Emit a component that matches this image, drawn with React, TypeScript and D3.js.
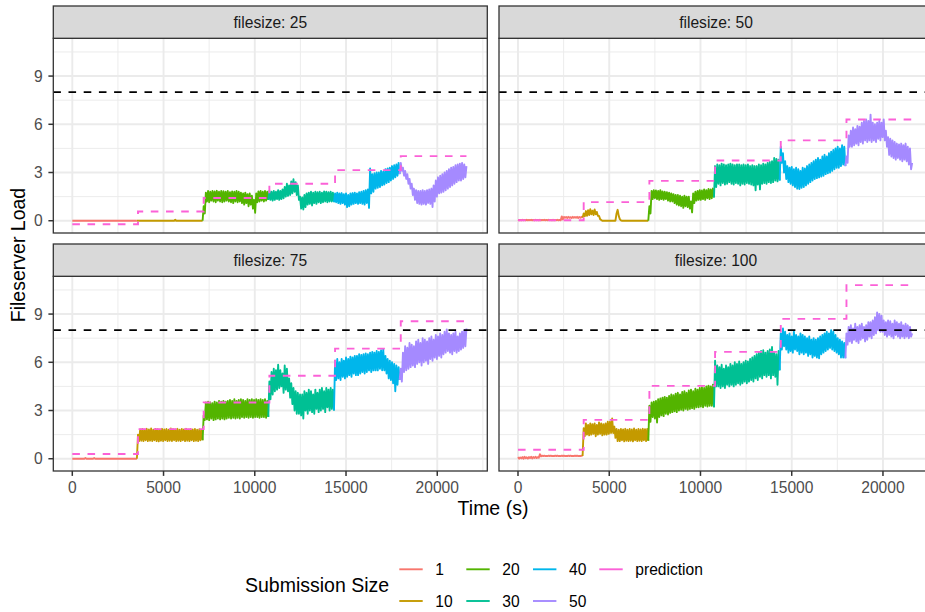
import React from "react";
import * as d3 from "d3";

// ---------- data ----------
const sizes = ["1", "10", "20", "30", "40", "50"];
const sizeColors = ["#F8766D", "#C49A00", "#53B400", "#00C094", "#00B6EB", "#A58AFF"];
const predColor = "#FB61D7";
const filesizes = [25, 50, 75, 100];
const segmentStarts = [0, 3600, 7200, 10800, 14400, 18000];
const timeEnd = 21600;
const sampleStep = 60; // seconds between samples (values alternate upper / lower edge of the noisy trace)
const threshold = 8;
const xTicks = [0, 5000, 10000, 15000, 20000];
const xMinor = [2500, 7500, 12500, 17500, 22500];
const yTicks = [0, 3, 6, 9];
const yMinor = [1.5, 4.5, 7.5, 10.5];

const pred25 = [-0.22, 0.57, 1.41, 2.3, 3.15, 4.02];
const pred50 = [0.03, 1.16, 2.48, 3.75, 5.0, 6.3];
const pred75 = [0.29, 1.84, 3.5, 5.16, 6.85, 8.55];
const pred100 = [0.56, 2.42, 4.53, 6.65, 8.7, 10.8];

const load25 = [
  // 1
  0, 0, 0, 0, 0, 0, 0, 0, 0, 0, 0, 0, 0, 0, 0, 0, 0, 0, 0, 0, 0, 0, 0, 0, 0, 0, 0, 0, 0, 0,
  0, 0, 0, 0, 0, 0, 0, 0, 0, 0, 0, 0, 0, 0, 0, 0, 0, 0, 0, 0, 0, 0, 0, 0, 0, 0, 0, 0, 0, 0,
  // 10
  0, 0, 0, 0, 0, 0, 0, 0, 0, 0, 0, 0, 0, 0, 0, 0, 0, 0, 0, 0, 0, 0, 0, 0, 0, 0, 0, 0, 0, 0,
  0, 0, 0, 0, 0.06, 0, 0, 0, 0, 0, 0, 0, 0, 0, 0, 0, 0, 0, 0, 0, 0, 0, 0, 0, 0, 0, 0, 0, 0, 0,
  // 20
  0.9, 0.45, 1.75, 1.2, 1.85, 1.15, 1.8, 1.25, 1.85, 1.2, 1.82, 1.15, 1.86, 1.25, 1.8, 1.2, 1.85, 1.15, 1.83, 1.2,
  1.8, 1.25, 1.85, 1.2, 1.78, 1.15, 1.82, 1.1, 1.8, 1.2, 1.85, 1.15, 1.8, 1.2, 1.75, 1.1, 1.7, 1.0, 1.75, 1.1,
  1.65, 0.9, 1.7, 1.0, 1.55, 0.75, 1.3, 0.5, 1.7, 1.15, 1.82, 1.2, 1.85, 1.25, 1.8, 1.2, 1.85, 1.25, 1.8, 1.3,
  // 30
  1.85, 1.3, 1.8, 1.25, 1.85, 1.3, 1.8, 1.35, 1.9, 1.3, 1.85, 1.35, 1.95, 1.4, 2.1, 1.5, 2.3, 1.55, 2.2, 1.6,
  2.45, 1.7, 2.58, 1.8, 2.4, 1.6, 2.2, 1.3, 1.5, 0.75, 1.45, 0.7, 1.6, 0.85, 1.7, 1.0, 1.75, 1.05, 1.8, 0.95,
  1.75, 1.1, 1.8, 1.05, 1.78, 1.15, 1.8, 1.1, 1.75, 1.15, 1.82, 1.2, 1.8, 1.15, 1.78, 1.2, 1.8, 1.2, 1.75, 1.15,
  // 40
  1.7, 1.15, 1.75, 1.1, 1.7, 1.05, 1.72, 1.1, 1.65, 1.0, 1.7, 0.85, 1.6, 0.9, 1.7, 1.0, 1.72, 1.05, 1.75, 1.1,
  1.7, 1.05, 1.78, 1.1, 1.8, 1.05, 1.85, 1.0, 1.9, 1.1, 1.95, 0.8, 3.25, 1.7, 2.9, 1.8, 2.95, 2.0, 3.0, 2.05,
  3.0, 2.1, 3.1, 2.2, 3.05, 2.25, 3.2, 2.35, 3.25, 2.4, 3.3, 2.5, 3.4, 2.6, 3.45, 2.7, 3.5, 2.8, 3.6, 2.9,
  // 50
  3.6, 3.1, 3.3, 2.8, 3.1, 2.6, 2.9, 2.3, 2.6, 2.0, 2.3, 1.6, 2.0, 1.3, 1.9, 1.1, 1.85, 1.05, 1.85, 1.0,
  1.9, 1.05, 1.85, 1.0, 1.9, 1.1, 1.95, 1.05, 2.0, 0.85, 2.2, 1.2, 2.5, 1.5, 2.7, 1.7, 2.8, 1.75, 2.9, 1.8,
  3.0, 1.9, 3.1, 2.0, 3.2, 2.1, 3.3, 2.2, 3.35, 2.3, 3.45, 2.4, 3.5, 2.5, 3.55, 2.5, 3.6, 2.6, 3.5, 2.7,
  3.4,
];

const load50 = [
  // 1
  0.06, 0.02, 0.05, 0.02, 0.06, 0.03, 0.05, 0.02, 0.06, 0.02, 0.05, 0.03, 0.06, 0.02, 0.05, 0.02, 0.06, 0.03, 0.05, 0.02,
  0.06, 0.02, 0.05, 0.03, 0.06, 0.02, 0.05, 0.02, 0.06, 0.03, 0.05, 0.02, 0.06, 0.02, 0.05, 0.03, 0.06, 0.02, 0.05, 0.03,
  0.27, 0.08, 0.24, 0.18, 0.23, 0.17, 0.24, 0.18, 0.22, 0.17, 0.24, 0.18, 0.23, 0.18, 0.24, 0.17, 0.23, 0.18, 0.24, 0.18,
  // 10
  0.45, 0.28, 0.6, 0.3, 0.65, 0.35, 0.72, 0.4, 0.62, 0.35, 0.7, 0.4, 0.55, 0.3, 0.3, 0.1, 0.05, 0.0, 0, 0,
  0, 0, 0, 0, 0, 0, 0, 0, 0, 0, 0.45, 0.68, 0.3, 0.1, 0.02, 0, 0, 0, 0, 0,
  0, 0, 0, 0, 0, 0, 0, 0, 0, 0, 0, 0, 0, 0, 0, 0, 0, 0, 0, 0,
  // 20
  0.9, 0.45, 1.85, 1.35, 1.9, 1.4, 1.88, 1.35, 1.85, 1.3, 1.9, 1.35, 1.82, 1.3, 1.8, 1.35, 1.78, 1.25, 1.75, 1.2,
  1.7, 1.2, 1.65, 1.1, 1.6, 1.0, 1.6, 0.95, 1.55, 0.9, 1.5, 0.8, 1.55, 0.9, 1.5, 0.85, 1.5, 0.75, 1.2, 0.52,
  1.7, 1.1, 1.8, 1.25, 1.85, 1.3, 1.9, 1.3, 1.88, 1.35, 1.95, 1.3, 1.9, 1.4, 1.97, 1.35, 1.95, 1.4, 2.0, 1.45,
  // 30
  3.4, 2.1, 3.5, 2.3, 3.45, 2.2, 3.55, 2.35, 3.5, 2.25, 3.45, 2.3, 3.5, 2.4, 3.55, 2.3, 3.5, 2.25, 3.45, 2.35,
  3.5, 2.3, 3.5, 2.2, 3.45, 2.3, 3.5, 2.25, 3.45, 2.35, 3.5, 2.3, 3.4, 2.25, 3.45, 2.2, 3.4, 1.9, 3.4, 2.25,
  3.5, 1.95, 3.45, 2.3, 3.55, 2.35, 3.5, 2.3, 3.6, 2.4, 3.65, 2.35, 3.7, 2.4, 3.9, 2.5, 3.85, 2.45, 3.8, 2.5,
  // 40
  4.6, 3.6, 4.2, 3.0, 3.7, 2.6, 3.4, 2.4, 3.3, 2.3, 3.35, 2.2, 3.2, 2.1, 3.3, 2.0, 3.2, 1.97, 3.1, 2.05,
  3.3, 2.1, 3.25, 2.2, 3.4, 2.3, 3.5, 2.4, 3.6, 2.5, 3.7, 2.6, 3.8, 2.65, 3.9, 2.7, 3.8, 2.75, 4.0, 2.8,
  4.1, 2.9, 4.0, 2.95, 4.2, 3.0, 4.3, 3.1, 4.4, 3.2, 4.5, 3.3, 4.6, 3.3, 4.5, 3.4, 4.7, 3.5, 4.6, 3.4,
  // 50
  4.0, 3.6, 5.3, 4.6, 5.6, 4.6, 5.8, 4.7, 5.7, 4.8, 5.9, 4.7, 5.85, 4.9, 6.1, 4.8, 6.2, 5.0, 6.3, 4.9,
  6.2, 5.0, 6.6, 4.9, 6.1, 5.0, 6.0, 4.9, 6.1, 5.1, 6.2, 5.0, 6.1, 5.2, 6.3, 5.0, 5.6, 4.6, 5.2, 4.1,
  5.1, 4.0, 5.0, 3.9, 4.9, 3.8, 4.8, 3.9, 4.75, 3.8, 4.8, 3.7, 4.7, 3.8, 4.8, 3.7, 4.6, 3.5, 4.5, 3.2,
  3.6,
];

const load75 = [
  // 1
  0, 0, 0, 0, 0, 0, 0, 0, 0, 0, 0, 0, 0.05, 0, 0, 0, 0, 0, 0, 0, 0.04, 0, 0, 0, 0, 0, 0, 0, 0, 0,
  0, 0, 0, 0, 0, 0, 0, 0, 0, 0, 0, 0, 0, 0, 0, 0, 0, 0, 0, 0, 0, 0, 0, 0, 0, 0, 0, 0, 0, 0,
  // 10
  1.5, 1.1, 1.82, 1.12, 1.85, 1.1, 1.8, 1.15, 1.86, 1.1, 1.82, 1.12, 1.88, 1.1, 1.8, 1.15, 1.85, 1.1, 1.84, 1.08,
  1.8, 1.12, 1.86, 1.1, 1.82, 1.15, 1.85, 1.1, 1.8, 1.12, 1.88, 1.1, 1.84, 1.15, 1.82, 1.1, 1.86, 1.12, 1.8, 1.1,
  1.85, 1.15, 1.82, 1.1, 1.86, 1.12, 1.8, 1.1, 1.84, 1.15, 1.82, 1.1, 1.85, 1.12, 1.8, 1.1, 1.83, 1.15, 1.78, 1.15,
  // 20
  2.7, 2.4, 3.5, 2.45, 3.55, 2.4, 3.5, 2.5, 3.45, 2.4, 3.55, 2.45, 3.5, 2.5, 3.6, 2.45, 3.55, 2.5, 3.6, 2.45,
  3.55, 2.5, 3.6, 2.55, 3.65, 2.5, 3.6, 2.55, 3.7, 2.5, 3.6, 2.55, 3.65, 2.5, 3.7, 2.6, 3.65, 2.55, 3.6, 2.6,
  3.7, 2.55, 3.65, 2.6, 3.7, 2.55, 3.65, 2.6, 3.7, 2.6, 3.65, 2.55, 3.7, 2.6, 3.65, 2.6, 3.7, 2.55, 3.6, 2.6,
  // 30
  4.8, 3.7, 5.4, 4.0, 5.6, 4.2, 5.5, 4.3, 5.85, 4.4, 5.5, 4.5, 5.3, 4.1, 5.8, 4.3, 5.6, 4.2, 5.0, 3.8,
  4.7, 3.4, 4.4, 3.0, 4.2, 2.8, 4.1, 2.8, 4.0, 2.7, 4.0, 2.5, 4.2, 3.0, 4.1, 2.8, 4.3, 3.0, 4.2, 2.9,
  4.0, 2.8, 4.3, 3.1, 4.1, 2.9, 4.3, 3.0, 4.4, 3.1, 4.2, 2.9, 4.4, 3.2, 4.3, 3.0, 4.4, 3.1, 4.3, 3.0,
  // 40
  6.1, 4.9, 6.2, 5.0, 6.0, 4.9, 6.2, 5.1, 6.1, 5.0, 6.3, 5.1, 6.2, 5.2, 6.35, 5.1, 6.3, 5.3, 6.4, 5.2,
  6.4, 5.2, 6.5, 5.3, 6.45, 5.4, 6.5, 5.3, 6.55, 5.4, 6.5, 5.5, 6.6, 5.4, 6.65, 5.5, 6.6, 5.5, 6.7, 5.5,
  6.65, 5.6, 6.75, 5.5, 6.8, 5.5, 6.4, 5.3, 6.2, 5.0, 6.1, 4.9, 6.0, 4.7, 5.9, 4.2, 5.8, 4.6, 5.7, 4.9,
  // 50
  5.6, 4.8, 6.6, 5.4, 7.0, 5.5, 6.9, 5.6, 7.2, 5.7, 7.1, 5.8, 7.0, 5.7, 7.3, 5.9, 7.4, 6.0, 7.2, 5.8,
  7.5, 6.0, 7.4, 6.1, 7.3, 5.9, 7.5, 6.2, 7.6, 6.1, 7.4, 6.3, 7.7, 6.2, 7.6, 6.4, 7.8, 6.3, 7.7, 6.5,
  7.9, 6.6, 8.05, 6.7, 7.8, 6.6, 7.7, 6.5, 7.8, 6.7, 7.9, 6.6, 7.6, 6.7, 7.8, 6.8, 7.9, 6.9, 8.0, 7.0,
  8.1,
];

const load100 = [
  // 1
  0.1, 0.0, 0.08, 0.02, 0.1, 0.0, 0.12, 0.03, 0.09, 0.01, 0.1, 0.04, 0.12, 0.02, 0.1, 0.05, 0.12, 0.04, 0.1, 0.06,
  0.28, 0.15, 0.19, 0.16, 0.19, 0.16, 0.18, 0.16, 0.19, 0.17, 0.19, 0.16, 0.18, 0.16, 0.19, 0.17, 0.19, 0.16, 0.18, 0.16,
  0.19, 0.17, 0.19, 0.16, 0.18, 0.16, 0.19, 0.17, 0.19, 0.16, 0.18, 0.16, 0.19, 0.17, 0.19, 0.16, 0.18, 0.16, 0.19, 0.17,
  // 10
  1.9, 1.4, 2.2, 1.5, 2.1, 1.45, 2.2, 1.5, 2.15, 1.55, 2.2, 1.4, 2.1, 1.5, 2.25, 1.55, 2.2, 1.45, 2.15, 1.5,
  2.2, 1.5, 2.3, 1.55, 2.3, 1.6, 2.5, 1.6, 2.0, 1.3, 1.85, 1.1, 1.8, 1.1, 1.85, 1.15, 1.82, 1.08, 1.86, 1.12,
  1.8, 1.1, 1.85, 1.12, 1.82, 1.08, 1.88, 1.15, 1.8, 1.1, 1.85, 1.12, 1.82, 1.1, 1.86, 1.15, 1.84, 1.1, 1.85, 1.12,
  // 20
  3.3, 2.3, 3.5, 2.6, 3.55, 2.5, 3.6, 2.25, 3.7, 2.6, 3.75, 2.7, 3.8, 2.65, 3.85, 2.8, 3.8, 2.75, 3.9, 2.85,
  4.0, 2.9, 3.95, 2.95, 4.05, 2.9, 4.1, 3.0, 4.0, 3.05, 4.15, 3.0, 4.2, 3.1, 4.1, 3.05, 4.25, 3.1, 4.3, 3.15,
  4.2, 3.1, 4.35, 3.2, 4.3, 3.2, 4.4, 3.25, 4.45, 3.2, 4.4, 3.3, 4.5, 3.25, 4.55, 3.3, 4.5, 3.3, 4.6, 3.2,
  // 30
  6.1, 4.5, 5.8, 4.5, 5.7, 4.4, 5.85, 4.5, 5.6, 4.4, 5.8, 4.6, 5.7, 4.5, 5.9, 4.6, 5.8, 4.5, 6.0, 4.6,
  5.9, 4.7, 6.05, 4.6, 5.9, 4.7, 6.0, 4.8, 6.1, 4.7, 6.05, 4.8, 6.2, 4.9, 6.3, 4.8, 6.4, 5.0, 6.5, 4.9,
  6.6, 5.1, 6.7, 5.0, 6.75, 5.2, 6.6, 5.1, 6.7, 5.2, 6.8, 5.0, 6.95, 5.2, 6.6, 5.1, 6.5, 4.6, 6.7, 5.5,
  // 40
  7.8, 6.8, 8.1, 7.0, 7.9, 6.8, 7.7, 6.6, 7.8, 6.7, 7.6, 6.6, 7.9, 6.8, 7.7, 6.7, 7.6, 6.5, 7.8, 6.6,
  7.7, 6.5, 7.6, 6.6, 7.5, 6.4, 7.6, 6.5, 7.4, 6.3, 7.5, 6.4, 7.4, 6.3, 7.5, 6.25, 7.6, 6.5, 7.7, 6.6,
  7.8, 6.7, 7.9, 6.8, 7.8, 6.9, 8.0, 6.8, 7.9, 6.7, 7.7, 6.6, 7.5, 6.5, 7.4, 6.3, 7.3, 6.3, 7.2, 6.25,
  // 50
  7.8, 7.1, 8.2, 7.3, 8.3, 7.2, 8.1, 7.4, 8.4, 7.3, 8.2, 7.2, 8.3, 7.4, 8.4, 7.5, 8.2, 7.3, 8.3, 7.4,
  8.5, 7.6, 8.5, 7.5, 8.6, 7.7, 8.8, 7.8, 9.1, 8.0, 9.0, 7.9, 8.9, 7.9, 8.6, 7.7, 8.5, 7.6, 8.6, 7.7,
  8.55, 7.6, 8.4, 7.5, 8.6, 7.7, 8.5, 7.6, 8.4, 7.5, 8.5, 7.6, 8.3, 7.5, 8.4, 7.6, 8.3, 7.5, 8.2, 7.6,
  7.8,
];

const loads = [load25, load50, load75, load100];
const preds = [pred25, pred50, pred75, pred100];

// ---------- layout ----------
const W = 925;
const H = 612;
const FONT = "'Liberation Sans', Arial, Helvetica, sans-serif";
const panelLefts = [53.3, 499];
const stripTops = [6, 244];
const stripH = 32.3;
const panelW = 434;
const panelH = 194.7;
const xDomain: [number, number] = [-1041, 22742];
const yDomain: [number, number] = [-0.764, 11.35];
const lw = 1.9;

function Panel({ idx }: { idx: number }) {
  const col = idx % 2;
  const row = Math.floor(idx / 2);
  const left = panelLefts[col];
  const stripTop = stripTops[row];
  const top = stripTop + stripH;
  const bottom = top + panelH;
  const x = d3.scaleLinear().domain(xDomain).range([left, left + panelW]);
  const y = d3.scaleLinear().domain(yDomain).range([bottom, top]);
  const values = loads[idx];
  const pts = values.map((v, i) => [i * sampleStep, v] as [number, number]);
  const line = d3
    .line<[number, number]>()
    .x((d) => x(d[0]))
    .y((d) => y(d[1]));
  const perSeg = (segmentStarts[1] - segmentStarts[0]) / sampleStep;
  const segs = segmentStarts.map((s, k) => {
    const a = Math.max(0, k * perSeg - 1);
    const b = k === segmentStarts.length - 1 ? values.length - 1 : (k + 1) * perSeg - 1;
    return pts.slice(a, b + 1);
  });
  const pred = preds[idx];
  const predPts: [number, number][] = segmentStarts.map((s, k) => [s, pred[k]]);
  predPts.push([timeEnd, pred[pred.length - 1]]);
  const stepLine = d3
    .line<[number, number]>()
    .x((d) => x(d[0]))
    .y((d) => y(d[1]))
    .curve(d3.curveStepAfter);
  const clipId = `clip${idx}`;
  return (
    <g>
      <defs>
        <clipPath id={clipId}>
          <rect x={left} y={top} width={panelW} height={panelH} />
        </clipPath>
      </defs>
      <rect x={left} y={top} width={panelW} height={panelH} fill="#FFFFFF" />
      <g clipPath={`url(#${clipId})`}>
        {yMinor.map((t) => (
          <line key={"ym" + t} x1={left} x2={left + panelW} y1={y(t)} y2={y(t)} stroke="#EBEBEB" strokeWidth={0.95} />
        ))}
        {xMinor.map((t) => (
          <line key={"xm" + t} x1={x(t)} x2={x(t)} y1={top} y2={bottom} stroke="#EBEBEB" strokeWidth={0.95} />
        ))}
        {yTicks.map((t) => (
          <line key={"yM" + t} x1={left} x2={left + panelW} y1={y(t)} y2={y(t)} stroke="#EBEBEB" strokeWidth={1.9} />
        ))}
        {xTicks.map((t) => (
          <line key={"xM" + t} x1={x(t)} x2={x(t)} y1={top} y2={bottom} stroke="#EBEBEB" strokeWidth={1.9} />
        ))}
        {segs.map((sp, k) => (
          <path key={"s" + k} d={line(sp) || ""} fill="none" stroke={sizeColors[k]} strokeWidth={lw} strokeLinejoin="round" />
        ))}
        <path d={stepLine(predPts) || ""} fill="none" stroke={predColor} strokeWidth={lw} strokeDasharray="7.6,7.6" />
        <line x1={left} x2={left + panelW} y1={y(threshold)} y2={y(threshold)} stroke="#000000" strokeWidth={lw} strokeDasharray="7.6,7.6" />
      </g>
      <rect x={left} y={top} width={panelW} height={panelH} fill="none" stroke="#333333" strokeWidth={1.3} />
      <rect x={left} y={stripTop} width={panelW} height={stripH} fill="#D9D9D9" stroke="#333333" strokeWidth={1.3} />
      <text x={left + panelW / 2} y={stripTop + stripH / 2} dy="0.35em" textAnchor="middle" fontSize={15.6} fill="#1A1A1A" fontFamily={FONT}>
        {`filesize: ${filesizes[idx]}`}
      </text>
      {col === 0 &&
        yTicks.map((t) => (
          <g key={"yt" + t}>
            <line x1={left - 4.9} x2={left} y1={y(t)} y2={y(t)} stroke="#333333" strokeWidth={1.5} />
            <text x={left - 10.5} y={y(t)} dy="0.36em" textAnchor="end" fontSize={15.6} fill="#4D4D4D" fontFamily={FONT}>
              {t}
            </text>
          </g>
        ))}
      {row === 1 &&
        xTicks.map((t) => (
          <g key={"xt" + t}>
            <line x1={x(t)} x2={x(t)} y1={bottom} y2={bottom + 4.9} stroke="#333333" strokeWidth={1.5} />
            <text x={x(t)} y={bottom + 21.8} textAnchor="middle" fontSize={15.6} fill="#4D4D4D" fontFamily={FONT}>
              {t}
            </text>
          </g>
        ))}
    </g>
  );
}

const legendItems = [...sizes.map((s, i) => ({ label: s, color: sizeColors[i] })), { label: "prediction", color: predColor }];
const legendColX = [399.3, 466.3, 533, 599.3];
const legendRowY = [569.3, 601];

export default function App() {
  return (
    <svg
      width={W}
      height={H}
      viewBox={`0 0 ${W} ${H}`}
      style={{ position: "absolute", left: 0, top: 0, background: "#FFFFFF" }}
      fontFamily={FONT}
    >
      <rect x={0} y={0} width={W} height={H} fill="#FFFFFF" />
      {[0, 1, 2, 3].map((i) => (
        <Panel key={i} idx={i} />
      ))}
      <text x={493} y={515} textAnchor="middle" fontSize={19.5} fill="#000000">
        Time (s)
      </text>
      <text transform={`translate(24.5,255) rotate(-90)`} textAnchor="middle" fontSize={19.5} fill="#000000">
        Fileserver Load
      </text>
      <text x={245} y={592} fontSize={19.5} fill="#000000">
        Submission Size
      </text>
      {legendItems.map((it, i) => {
        const c = Math.floor(i / 2);
        const r = i % 2;
        const kx = legendColX[c];
        const ky = legendRowY[r];
        return (
          <g key={it.label}>
            <line x1={kx} x2={kx + 23.4} y1={ky} y2={ky} stroke={it.color} strokeWidth={lw} />
            <text x={kx + 36} y={ky} dy="0.36em" fontSize={15.6} fill="#000000">
              {it.label}
            </text>
          </g>
        );
      })}
    </svg>
  );
}
